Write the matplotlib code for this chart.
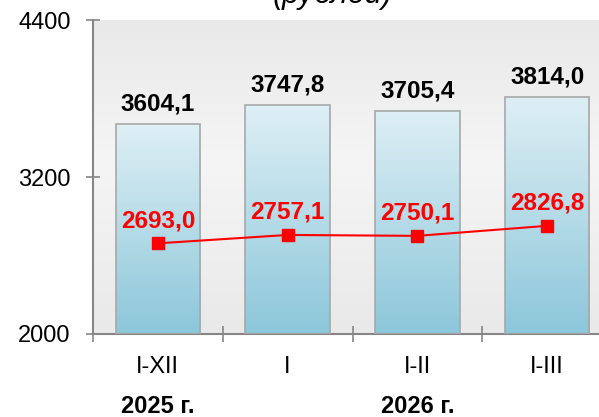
import numpy as np
import matplotlib
matplotlib.use("Agg")
import matplotlib.pyplot as plt
from matplotlib.colors import LinearSegmentedColormap
from matplotlib.transforms import blended_transform_factory

plt.rcParams['font.family'] = ['Liberation Sans', 'DejaVu Sans']

# data
periods = ['I-XII', 'I', 'I-II', 'I-III']
years = ['2025 г.', '2026 г.']
year_pos = [0, 2]
bar_values = [3604.1, 3747.8, 3705.4, 3814.0]
line_values = [2693.0, 2757.1, 2750.1, 2826.8]
y_ticks = [2000, 3200, 4400]

def fmt(v):
  return ('%.1f' % v).replace('.', ',')

W, H = 599, 417
fig = plt.figure(figsize=(W / 100, H / 100), dpi=100)
ax = fig.add_axes([93 / W, (H - 334) / H, (612 - 93) / W, (334 - 20) / H])

ymin, ymax = 2000, 4400
ax.set_xlim(-0.5, len(periods) - 0.5)
ax.set_ylim(ymin, ymax)

# plot area background: gray with a lighter band
bg = LinearSegmentedColormap.from_list('bg', [(0, '#e9e9e9'), (0.55, '#f5f5f5'), (1, '#e9e9e9')])
grad = np.linspace(0, 1, 256).reshape(-1, 1)
ax.imshow(grad, cmap=bg, aspect='auto', extent=[0, 1, 0, 1],
          transform=ax.transAxes, zorder=0, origin='lower')

# bars with vertical gradient
bar_cmap = LinearSegmentedColormap.from_list('bar', ['#8cc7da', '#deeff5'])
x = np.arange(len(periods))
w = 0.65
for xi, v in zip(x, bar_values):
  ax.imshow(grad, cmap=bar_cmap, aspect='auto', origin='lower',
            extent=[xi - w / 2, xi + w / 2, ymin, v], zorder=2)
bars = ax.bar(x, np.array(bar_values) - ymin, bottom=ymin, width=w,
              facecolor='none', edgecolor='#a8a8a8', linewidth=1.2, zorder=3)
for xi, v in zip(x, bar_values):
  ax.annotate(fmt(v), (xi, v), xytext=(0, 6), textcoords='offset points',
              ha='center', va='bottom', fontsize=17.5, fontweight='bold', color='black')

# red line
ax.plot(x, line_values, color='#ff0000', linewidth=1.5, marker='s',
        markersize=9, zorder=5)
for xi, v in zip(x, line_values):
  ax.annotate(fmt(v), (xi, v), xytext=(0, 8), textcoords='offset points',
              ha='center', va='bottom', fontsize=17.5, fontweight='bold', color='#ff0000')

ax.set_xlim(-0.5, len(periods) - 0.5)
ax.set_ylim(ymin, ymax)

# axes
for s in ['top', 'right']:
  ax.spines[s].set_visible(False)
for s in ['left', 'bottom']:
  ax.spines[s].set_color('#868686')
  ax.spines[s].set_linewidth(1.5)

ax.set_yticks(y_ticks)
ax.set_yticklabels([str(t) for t in y_ticks])
ax.set_xticks(np.arange(len(periods) + 1) - 0.5, minor=True)
ax.set_xticks(x)
ax.set_xticklabels(periods)
ax.tick_params(axis='x', which='major', length=0, pad=16, labelsize=17)
ax.tick_params(axis='x', which='minor', direction='inout', length=11,
               width=1.2, color='#868686')
ax.tick_params(axis='y', direction='inout', length=10, width=1.2,
               color='#868686', pad=11, labelsize=17)

trans = blended_transform_factory(ax.transData, ax.transAxes)
for yp, yl in zip(year_pos, years):
  ax.text(yp, -0.23, yl, transform=trans, ha='center', va='center',
          fontsize=17, fontweight='bold')

fig.text(332 / W, 1 - 3 / H, '(рублей)', ha='center', va='baseline',
         fontsize=22, style='italic')

fig.savefig('out.png', dpi=100)
